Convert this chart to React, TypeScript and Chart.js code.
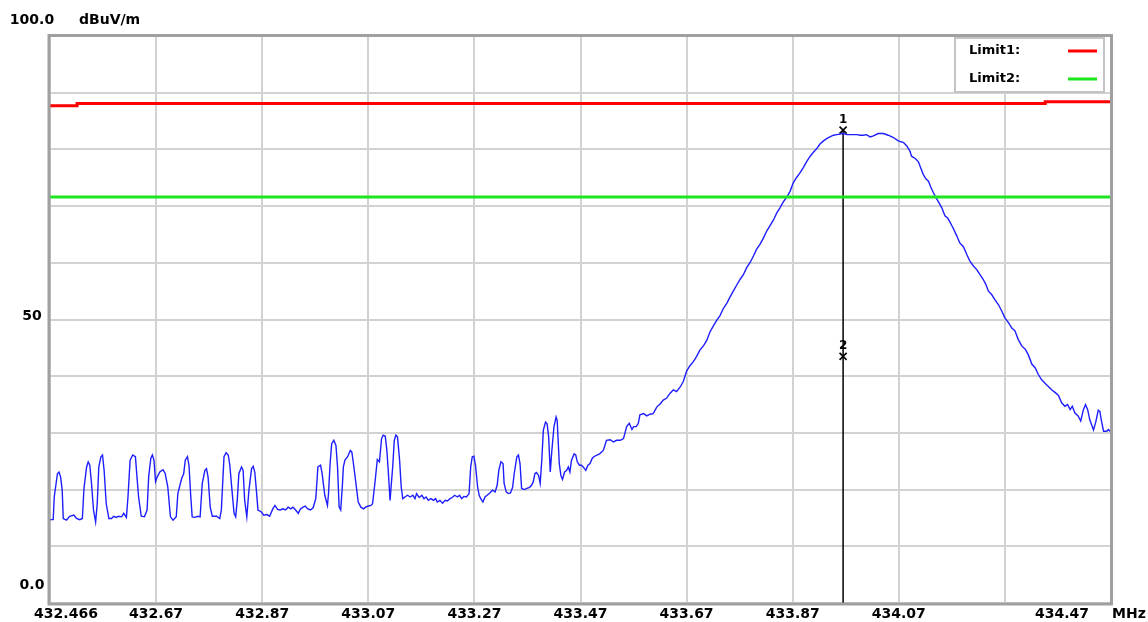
import React, { useEffect, useRef } from "react";
import { Chart, registerables } from "chart.js";

Chart.register(...registerables);

// ---- data ----
const xMin = 432.466;
const xMax = 434.466;
const xTickValues = [432.466, 432.666, 432.866, 433.066, 433.266, 433.466, 433.666, 433.866, 434.066, 434.266, 434.466];
const xTickLabels = ["432.466", "432.67", "432.87", "433.07", "433.27", "433.47", "433.67", "433.87", "434.07", "", "434.47"];
const yTickLabels: Array<[number, string]> = [[100, "100.0"], [50, "50"], [0, "0.0"]];
const xUnit = "MHz";
const yUnit = "dBuV/m";
const legendLabels = ["Limit1:", "Limit2:"];

const limit1Points: Array<[number, number]> = [
  [432.466, 87.7], [432.517, 87.7], [432.517, 88.1], [434.342, 88.1], [434.342, 88.4], [434.466, 88.4],
];
const limit2Points: Array<[number, number]> = [
  [432.466, 71.6], [434.466, 71.6],
];

const tracePoints: Array<[number, number]> = [
  [432.466, 14.7], [432.472, 14.7], [432.474, 18.7], [432.480, 22.8], [432.483, 23.1], [432.486, 22.2],
  [432.489, 19.9], [432.491, 14.9], [432.497, 14.6], [432.503, 15.3], [432.511, 15.5], [432.516, 14.9],
  [432.522, 14.7], [432.527, 14.9], [432.530, 20.2], [432.535, 24.0], [432.538, 24.9], [432.541, 24.3],
  [432.544, 21.4], [432.548, 16.4], [432.552, 14.3], [432.555, 17.5], [432.558, 24.0], [432.562, 25.8],
  [432.565, 26.1], [432.568, 23.4], [432.572, 17.5], [432.577, 14.9], [432.582, 14.9], [432.586, 15.3],
  [432.591, 15.1], [432.595, 15.3], [432.601, 15.2], [432.605, 15.8], [432.610, 15.1], [432.613, 18.7],
  [432.617, 25.2], [432.622, 26.1], [432.627, 25.8], [432.630, 22.2], [432.633, 18.7], [432.638, 15.3],
  [432.644, 15.2], [432.649, 16.4], [432.652, 22.2], [432.656, 25.5], [432.659, 26.1], [432.662, 25.2],
  [432.665, 21.4], [432.668, 22.2], [432.673, 23.1], [432.679, 23.5], [432.683, 22.9], [432.688, 20.5],
  [432.693, 15.2], [432.698, 14.6], [432.704, 15.2], [432.707, 19.3], [432.714, 21.9], [432.718, 22.8],
  [432.721, 25.2], [432.725, 25.8], [432.728, 24.3], [432.731, 19.3], [432.734, 15.2], [432.739, 15.1],
  [432.745, 15.3], [432.749, 15.2], [432.753, 21.1], [432.758, 23.4], [432.761, 23.7], [432.764, 22.2],
  [432.768, 16.9], [432.772, 15.3], [432.780, 15.3], [432.786, 14.9], [432.789, 16.4], [432.794, 25.8],
  [432.798, 26.5], [432.802, 26.1], [432.805, 24.3], [432.809, 19.9], [432.813, 15.8], [432.816, 15.2],
  [432.819, 18.1], [432.822, 22.8], [432.827, 24.0], [432.830, 23.4], [432.833, 18.1], [432.837, 15.2],
  [432.841, 19.9], [432.846, 23.7], [432.849, 24.1], [432.852, 23.1], [432.855, 19.9], [432.858, 16.4],
  [432.864, 16.1], [432.869, 15.5], [432.875, 15.6], [432.880, 15.3], [432.886, 16.6], [432.890, 17.2],
  [432.895, 16.5], [432.900, 16.4], [432.905, 16.6], [432.910, 16.4], [432.915, 16.9], [432.920, 16.6],
  [432.924, 16.9], [432.929, 16.4], [432.934, 15.8], [432.938, 16.6], [432.943, 16.9], [432.947, 17.1],
  [432.952, 16.6], [432.957, 16.4], [432.962, 16.8], [432.967, 18.4], [432.971, 24.0], [432.976, 24.3],
  [432.979, 22.8], [432.984, 19.0], [432.989, 17.2],
  [432.991, 19.3], [432.994, 24.6], [432.997, 28.1], [433.001, 28.7], [433.005, 27.8], [433.008, 24.0],
  [433.011, 16.9], [433.014, 16.4], [433.017, 20.5], [433.019, 24.0], [433.022, 25.2], [433.027, 25.8],
  [433.032, 26.9], [433.035, 26.6], [433.038, 24.6], [433.042, 21.6], [433.047, 17.8], [433.052, 16.9],
  [433.057, 16.6], [433.061, 16.9], [433.066, 17.1], [433.071, 17.2], [433.074, 17.5], [433.079, 21.6],
  [433.083, 25.3], [433.087, 24.9], [433.091, 29.0], [433.094, 29.6], [433.098, 29.4], [433.101, 26.9],
  [433.104, 22.8], [433.107, 18.1], [433.109, 20.5], [433.112, 24.0], [433.115, 28.7], [433.118, 29.6],
  [433.121, 29.3], [433.125, 25.2], [433.128, 20.5], [433.131, 18.4], [433.135, 18.7], [433.140, 19.0],
  [433.145, 18.7], [433.150, 19.0], [433.154, 18.4], [433.157, 19.3], [433.162, 18.6], [433.167, 19.0],
  [433.171, 18.4], [433.175, 18.7], [433.179, 18.1], [433.184, 18.4], [433.189, 18.1], [433.193, 18.4],
  [433.196, 17.8], [433.201, 18.1], [433.206, 17.6], [433.211, 18.1], [433.215, 18.0], [433.220, 18.4],
  [433.224, 18.6], [433.229, 19.0], [433.234, 18.7], [433.238, 19.0], [433.242, 18.4], [433.246, 18.8],
  [433.251, 18.7], [433.256, 19.3], [433.259, 24.0], [433.262, 25.8], [433.265, 25.9], [433.268, 24.3],
  [433.272, 20.5], [433.275, 19.0], [433.278, 18.4], [433.282, 17.8], [433.286, 18.7], [433.290, 19.0],
  [433.295, 19.4], [433.300, 19.9], [433.305, 19.6], [433.309, 20.8], [433.312, 23.4], [433.316, 24.9],
  [433.320, 24.6], [433.322, 21.1], [433.326, 19.6], [433.330, 19.3], [433.334, 19.4], [433.338, 20.4],
  [433.341, 22.8], [433.346, 25.8], [433.349, 26.1], [433.352, 24.6], [433.355, 20.2], [433.360, 20.0],
  [433.365, 20.2], [433.370, 20.4], [433.374, 20.8], [433.377, 21.4], [433.380, 22.8], [433.383, 23.0],
  [433.387, 22.5], [433.390, 21.1], [433.393, 25.2], [433.396, 30.5], [433.400, 31.9], [433.403, 31.6],
  [433.406, 29.3], [433.409, 23.1], [433.412, 26.9], [433.416, 31.1], [433.420, 32.8], [433.422, 32.2],
  [433.426, 24.6], [433.429, 22.5], [433.432, 21.8], [433.436, 23.1], [433.440, 23.4], [433.443, 24.0],
  [433.446, 23.1], [433.449, 25.2], [433.454, 26.3], [433.457, 26.1], [433.460, 24.9], [433.464, 24.3],
  [433.468, 24.3], [433.471, 24.0], [433.476, 23.4], [433.480, 24.3], [433.484, 24.6], [433.488, 25.5],
  [433.491, 25.8], [433.497, 26.1], [433.502, 26.3],
  [433.509, 26.9], [433.515, 28.7], [433.522, 28.8], [433.528, 28.4], [433.534, 28.7], [433.541, 28.7],
  [433.547, 29.0], [433.553, 31.1], [433.558, 31.7], [433.563, 30.6], [433.566, 31.1], [433.571, 31.1],
  [433.575, 31.7], [433.578, 33.2], [433.585, 33.4], [433.591, 33.0], [433.597, 33.3], [433.603, 33.4],
  [433.610, 34.6], [433.616, 35.1], [433.622, 35.8], [433.628, 36.1], [433.635, 37.0], [433.641, 37.6],
  [433.647, 37.3], [433.654, 38.1], [433.660, 39.1],
  [433.666, 40.9], [433.672, 41.8], [433.679, 42.6], [433.685, 43.5], [433.691, 44.6], [433.698, 45.4],
  [433.704, 46.3], [433.710, 47.8], [433.716, 48.8], [433.723, 49.9], [433.729, 50.7], [433.735, 51.9],
  [433.742, 52.9], [433.748, 54.0], [433.754, 55.0], [433.760, 56.0], [433.767, 57.1], [433.773, 57.9],
  [433.779, 59.1], [433.786, 60.1], [433.792, 61.2], [433.798, 62.4], [433.804, 63.2], [433.811, 64.4],
  [433.817, 65.6], [433.823, 66.5], [433.830, 67.6], [433.836, 68.8], [433.842, 69.7], [433.848, 70.7],
  [433.855, 71.6], [433.861, 72.6], [433.867, 74.1], [433.873, 75.0], [433.880, 75.9], [433.886, 76.8],
  [433.892, 77.8], [433.899, 78.8], [433.905, 79.5], [433.911, 80.1], [433.917, 80.9], [433.924, 81.5],
  [433.930, 81.9], [433.936, 82.2], [433.943, 82.5], [433.949, 82.6], [433.955, 82.7], [433.961, 82.8],
  [433.968, 82.6], [433.974, 82.6], [433.980, 82.6], [433.987, 82.6], [433.993, 82.5], [433.999, 82.5],
  [434.005, 82.6],
  [434.012, 82.2], [434.018, 82.4], [434.027, 82.8], [434.037, 82.8], [434.046, 82.5], [434.056, 82.1],
  [434.065, 81.5], [434.075, 81.2], [434.081, 80.6], [434.087, 79.7], [434.090, 78.8], [434.097, 78.4],
  [434.103, 77.8], [434.107, 76.8], [434.112, 75.6], [434.117, 74.8], [434.122, 74.4], [434.126, 73.4],
  [434.131, 72.4], [434.136, 71.5], [434.141, 70.7], [434.147, 69.7], [434.153, 68.3], [434.158, 67.9],
  [434.163, 67.1], [434.169, 66.0], [434.175, 64.8], [434.181, 63.5], [434.188, 62.8], [434.194, 61.5],
  [434.200, 60.3], [434.207, 59.4], [434.213, 58.8], [434.219, 57.9], [434.225, 57.1], [434.230, 56.2],
  [434.235, 55.0], [434.241, 54.4], [434.247, 53.5], [434.254, 52.6], [434.260, 51.5], [434.266, 50.3],
  [434.273, 49.4], [434.279, 48.5], [434.285, 48.0], [434.291, 46.5], [434.298, 45.3], [434.304, 44.8],
  [434.310, 43.8], [434.317, 42.1], [434.323, 41.5], [434.329, 40.3], [434.335, 39.4], [434.342, 38.7],
  [434.348, 38.2], [434.354, 37.6], [434.361, 37.1], [434.367, 36.6], [434.373, 35.3], [434.379, 34.7],
  [434.384, 35.0], [434.389, 34.1], [434.393, 34.7], [434.398, 33.5], [434.404, 33.0], [434.409, 32.1],
  [434.414, 34.1], [434.418, 35.0], [434.422, 34.1], [434.426, 32.3], [434.433, 30.5], [434.437, 31.8],
  [434.442, 34.0], [434.445, 33.8], [434.448, 32.1], [434.452, 30.3], [434.458, 30.3], [434.461, 30.6],
  [434.466, 30.1],
];

const markerFreq = 433.961;
const markerLevels = [83.4, 43.5];
const markerNames = ["1", "2"];

// ---- styles ----
const FONT = '"DejaVu Sans", sans-serif';
const GRID = "#d2d2d2";
const FRAME = "#a0a0a0";
const RED = "#ff0000";
const GREEN = "#1ee61e";
const BLUE = "#1e1eff";

const toXY = (arr: Array<[number, number]>) => arr.map(([x, y]) => ({ x, y }));

const overlay = {
  id: "overlay",
  afterDatasetsDraw(chart: any) {
    const { ctx, chartArea: a, scales } = chart;
    const xs = scales.x;
    const ys = scales.y;
    ctx.save();
    // frame
    ctx.strokeStyle = FRAME;
    ctx.lineWidth = 3;
    ctx.strokeRect(a.left - 1, a.top - 0.5, a.right - a.left + 1.5, a.bottom - a.top + 1.5);

    // marker labels
    ctx.fillStyle = "#000";
    ctx.font = `bold 12px ${FONT}`;
    ctx.textAlign = "center";
    ctx.textBaseline = "alphabetic";
    markerLevels.forEach((lv, i) => {
      const px = xs.getPixelForValue(markerFreq);
      const py = ys.getPixelForValue(lv);
      ctx.fillText(markerNames[i], px, py - 7);
    });

    // legend
    const lx = 955, ly = 38, lw = 149, lh = 54;
    ctx.fillStyle = "#fff";
    ctx.fillRect(lx, ly, lw, lh);
    ctx.strokeStyle = "#c4c4c4";
    ctx.lineWidth = 2;
    ctx.strokeRect(lx, ly, lw, lh);
    ctx.font = `bold 13px ${FONT}`;
    ctx.textAlign = "left";
    ctx.textBaseline = "middle";
    ctx.fillStyle = "#000";
    const colors = [RED, GREEN];
    legendLabels.forEach((t, i) => {
      const ty = ly + 13 + i * 28;
      ctx.fillText(t, 969, ty);
      ctx.strokeStyle = colors[i];
      ctx.lineWidth = 3;
      ctx.beginPath();
      ctx.moveTo(1068, ty);
      ctx.lineTo(1097, ty);
      ctx.stroke();
    });

    // axis labels
    ctx.fillStyle = "#000";
    ctx.font = `bold 14px ${FONT}`;
    ctx.textBaseline = "middle";
    xTickValues.forEach((v, i) => {
      const t = xTickLabels[i];
      if (!t) return;
      let px = xs.getPixelForValue(v);
      if (i === 0) px += 16;
      if (i === xTickValues.length - 1) px -= 49;
      ctx.textAlign = "center";
      ctx.fillText(t, px, a.bottom + 11);
    });
    ctx.textAlign = "left";
    ctx.fillText(xUnit, a.right + 1, a.bottom + 11);

    yTickLabels.forEach(([v, t]) => {
      const py = ys.getPixelForValue(v);
      let off = -3;
      if (v === 100) off = -16;
      if (v === 0) off = -18;
      ctx.textAlign = "center";
      ctx.fillText(t, 32, py + off);
    });
    ctx.textAlign = "left";
    ctx.fillText(yUnit, 79, ys.getPixelForValue(100) - 16);
    ctx.restore();
  },
};

export default function App() {
  const ref = useRef<HTMLCanvasElement | null>(null);
  useEffect(() => {
    document.body.style.margin = "0";
    const canvas = ref.current;
    if (!canvas) return;
    const chart = new Chart(canvas, {
      type: "line",
      data: {
        datasets: [
          {
            label: "Limit1",
            data: toXY(limit1Points),
            borderColor: RED,
            borderWidth: 3,
            pointRadius: 0,
            tension: 0,
          },
          {
            label: "Limit2",
            data: toXY(limit2Points),
            borderColor: GREEN,
            borderWidth: 3,
            pointRadius: 0,
            tension: 0,
          },
          {
            label: "Trace",
            data: toXY(tracePoints),
            borderColor: BLUE,
            borderWidth: 1.4,
            pointRadius: 0,
            tension: 0,
          },
          {
            label: "MarkerLine",
            data: [
              { x: markerFreq, y: markerLevels[0] },
              { x: markerFreq, y: 0 },
            ],
            borderColor: "#000",
            borderWidth: 1.5,
            pointRadius: 0,
          },
          {
            label: "Markers",
            data: markerLevels.map((y) => ({ x: markerFreq, y })),
            showLine: false,
            pointStyle: "crossRot",
            pointRadius: 5,
            borderColor: "#000",
            borderWidth: 1.6,
          },
        ],
      },
      options: {
        animation: false,
        responsive: false,
        maintainAspectRatio: false,
        parsing: false as any,
        layout: { padding: { left: 50, top: 36, right: 37, bottom: 19 } },
        plugins: { legend: { display: false }, tooltip: { enabled: false }, title: { display: false } },
        scales: {
          x: {
            type: "linear",
            min: xMin,
            max: xMax,
            afterBuildTicks: (scale: any) => {
              scale.ticks = xTickValues.map((value) => ({ value }));
            },
            ticks: { display: false },
            grid: { color: GRID, lineWidth: 2, drawTicks: false },
            border: { display: false },
          },
          y: {
            type: "linear",
            min: 0,
            max: 100,
            ticks: { display: false, stepSize: 10 },
            grid: { color: GRID, lineWidth: 2, drawTicks: false },
            border: { display: false },
          },
        },
      },
      plugins: [overlay],
    });
    return () => chart.destroy();
  }, []);
  return <canvas ref={ref} width={1148} height={622} style={{ display: "block" }} />;
}
